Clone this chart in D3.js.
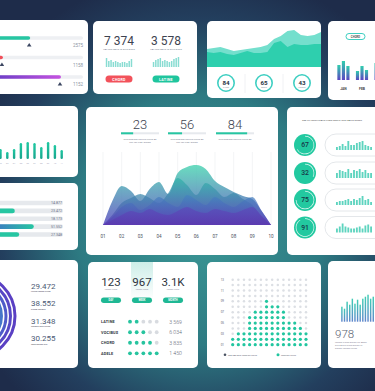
<!DOCTYPE html>
<html>
<head>
<meta charset="utf-8">
<script src="https://cdn.jsdelivr.net/npm/d3@7"></script>
<style>
body { margin: 0; background: #1e2d4a; }
svg { display: block; font-family: Roboto, "Open Sans", sans-serif; }
</style>
</head>
<body>
<svg width="375" height="391"></svg>
<script>
// ---- data ----
const progLabels = ["2575", "1158", "1152"];
const progValues = [40, 9, 75];

const kpiNumbers = ["7 374", "3 578"];
const kpiTags = ["CHORD", "LATINE"];
const kpiMiniA = [9, 6, 7, 5, 6, 5, 4, 5, 5, 4, 6, 8];
const kpiMiniB = [5, 7, 8, 9, 6, 7, 6, 5, 6, 8, 9, 10];

const waveLight = [18, 19, 20, 18, 16, 17, 18, 19, 20, 22, 28, 31, 36, 37, 32, 31, 32, 35];
const waveDark = [15, 14, 15, 13, 12, 14, 16, 14, 14, 15, 24, 26, 20, 23, 22, 22, 23, 23];
const ringValues = ["84", "65", "43"];
const ringNames = ["CHORD", "ADELE", "VOCIBUS"];

const months = ["JAN", "FEB", "MAR"];
const monthBars = [[15, 19, 14], [9, 14, 10], [17, 12, 15]];

const colBars = [12, 10, 7, 10, 16, 17, 16, 12, 17, 14, 9];

const hbarLabels = ["14.877", "23.472", "18.173", "51.552", "27.348"];
const hbarValues = [4, 34, 6, 60, 40];

const statNumbers = ["23", "56", "84"];
const statFill = [0.32, 0.37, 0.82];
const streamTicks = ["01", "02", "03", "04", "05", "06", "07", "08", "09", "10"];
const streamX = [1, 1.5, 2, 2.5, 3, 3.5, 4, 4.5, 5, 5.5, 6, 6.5, 7, 7.5, 8, 8.5, 9, 9.5, 10];
const streamA = [0, 24, 39, 34, 24, 36, 43, 31, 52, 58, 60, 56, 44, 38, 33, 29, 26, 14, 0];
const streamB = [0, 10, 22, 27, 31, 27, 22, 32, 47, 40, 30, 42, 36, 28, 32, 26, 20, 8, 0];
const streamC = [0, 8, 18, 22, 15, 20, 28, 22, 18, 30, 25, 20, 28, 22, 18, 24, 28, 14, 0];
const streamD = [0, 5, 10, 14, 12, 16, 12, 10, 14, 18, 14, 12, 16, 14, 12, 15, 18, 9, 0];

const gaugeValues = [67, 32, 75, 91];
const gaugeMini = [
  [3, 4, 6, 4, 9, 5, 5, 7, 8, 9, 5, 4, 3],
  [5, 8, 7, 6, 9, 5, 8, 7, 9, 6, 8, 5, 5],
  [3, 4, 4, 5, 6, 4, 6, 5, 7, 9, 5, 6, 3],
  [4, 6, 9, 6, 5, 4, 4, 5, 6, 4, 7, 8, 6]
];

const ringStats = ["29.472", "38.552", "31.348", "30.255"];
const ringStatSubs = ["LATINE LOREM IPSUM", "CHORD VOCIBUS", "VOCIBUS DUIS LATINE", "ADELE DONEC NISI"];

const periodNumbers = ["123", "967", "3.1K"];
const periodTags = ["DAY", "WEEK", "MONTH"];
const rankNames = ["LATINE", "VOCIBUS", "CHORD", "ADELE"];
const rankDots = [2, 3, 4, 5];
const rankValues = ["3 569", "6 034", "3 835", "1 450"];

const dotCols = [2, 3, 3, 6, 7, 7, 9, 8, 8, 7, 5, 5, 4, 3];
const dotRowLabels = ["01", "03", "05", "07", "09", "11", "13"];

const thinBars = [15, 13, 20, 17, 23, 18, 22, 17, 23, 25, 27, 23, 25, 33, 22, 28];

// ---- setup ----
const svg = d3.select("svg");
const defs = svg.append("defs");
const teal = "#26c6a2";
const grey = "#8b94a3";

function grad(id, c1, c2, units) {
  const g = defs.append("linearGradient").attr("id", id)
    .attr("x1", 0).attr("y1", 0).attr("x2", 0).attr("y2", 1);
  if (units) g.attr("gradientUnits", "userSpaceOnUse").attr("y1", units[0]).attr("y2", units[1]);
  g.append("stop").attr("offset", 0).attr("stop-color", c1);
  g.append("stop").attr("offset", 1).attr("stop-color", c2);
  return `url(#${id})`;
}

const bg = defs.append("radialGradient").attr("id", "bg")
  .attr("gradientUnits", "userSpaceOnUse").attr("cx", 200).attr("cy", 220).attr("r", 250);
bg.append("stop").attr("offset", 0).attr("stop-color", "#3c9a98");
bg.append("stop").attr("offset", 0.5).attr("stop-color", "#2d7a82");
bg.append("stop").attr("offset", 0.8).attr("stop-color", "#233f5e");
bg.append("stop").attr("offset", 1).attr("stop-color", "#1e2c4a");
svg.append("rect").attr("width", 375).attr("height", 391).attr("fill", "url(#bg)");

const purp = defs.append("linearGradient").attr("id", "purp");
purp.append("stop").attr("offset", 0).attr("stop-color", "#6a3ec6");
purp.append("stop").attr("offset", 1).attr("stop-color", "#c552e0");

const blueTeal = defs.append("linearGradient").attr("id", "blueTeal");
blueTeal.append("stop").attr("offset", 0).attr("stop-color", "#3f6fc8");
blueTeal.append("stop").attr("offset", 1).attr("stop-color", "#26c6a2");

let clipN = 0;
function card(x, y, w, h) {
  const id = "clip" + (clipN++);
  defs.append("clipPath").attr("id", id).append("rect")
    .attr("x", x).attr("y", y).attr("width", w).attr("height", h).attr("rx", 5);
  svg.append("rect").attr("x", x).attr("y", y).attr("width", w).attr("height", h)
    .attr("rx", 5).attr("fill", "#fff");
  return svg.append("g").attr("clip-path", `url(#${id})`);
}

function txt(g, x, y, s, size, fill, anchor, weight) {
  return g.append("text").attr("x", x).attr("y", y).text(s)
    .attr("font-size", size).attr("fill", fill || "#333")
    .attr("text-anchor", anchor || "start").attr("font-weight", weight || 400);
}

// ---- card A: progress bars ----
const gA = card(-12, 20, 100, 74);
const xProg = d3.scaleLinear().domain([0, 100]).range([-5, 83]);
const progColors = [teal, "#f0505a", "url(#purp)"];
progValues.forEach((v, i) => {
  const cy = 38 + i * 19.5;
  gA.append("rect").attr("x", xProg(0)).attr("y", cy - 1.8).attr("width", xProg(100) - xProg(0))
    .attr("height", 3.6).attr("rx", 1.8).attr("fill", "#eef0f3");
  gA.append("rect").attr("x", xProg(0)).attr("y", cy - 1.8).attr("width", xProg(v) - xProg(0))
    .attr("height", 3.6).attr("rx", 1.8).attr("fill", progColors[i]);
  const mx = xProg(v) - 1;
  gA.append("path").attr("d", `M${mx - 2.3},${cy + 8.5}L${mx},${cy + 5}L${mx + 2.3},${cy + 8.5}Z`)
    .attr("fill", "#3b4661");
  txt(gA, 83, cy + 9, progLabels[i], 4.5, grey, "end");
});

// ---- card B: KPI numbers ----
const gB = card(93, 21, 104, 73);
const kpiCx = [119, 166];
const kpiMini = [kpiMiniA, kpiMiniB];
kpiNumbers.forEach((n, i) => {
  const cx = kpiCx[i];
  txt(gB, cx, 45, n, 12, "#3d4350", "middle", 400);
  txt(gB, cx, 49.5, "LAT NIM SALIS ID DUIS DIMIS", 2.4, "#7a8190", "middle");
  const xb = d3.scaleBand().domain(d3.range(kpiMini[i].length)).range([cx - 14, cx + 14]).padding(0.35);
  const yb = d3.scaleLinear().domain([0, 10]).range([67, 57]);
  gB.selectAll(null).data(kpiMini[i]).join("rect")
    .attr("x", (d, j) => xb(j)).attr("width", xb.bandwidth())
    .attr("y", d => yb(d)).attr("height", d => 67 - yb(d)).attr("fill", "#88dcd2");
  gB.append("rect").attr("x", cx - 13.5).attr("y", 75.5).attr("width", 27).attr("height", 7)
    .attr("rx", 3.5).attr("fill", i === 0 ? "#f2525b" : "#1fc59d");
  txt(gB, cx, 80.6, kpiTags[i], 3.6, "#fff", "middle", 700).attr("letter-spacing", 0.3);
});

// ---- card C: waves + rings ----
const gC = card(207, 21, 114, 77);
const xw = d3.scaleLinear().domain([0, waveLight.length - 1]).range([207, 321]);
const yw = d3.scaleLinear().domain([0, 40]).range([67, 27]);
const wave = d3.area().x((d, i) => xw(i)).y0(67).y1(d => yw(d));
gC.append("path").attr("d", wave(waveLight)).attr("fill", "#74dfcd");
gC.append("path").attr("d", wave(waveDark)).attr("fill", "#2ecfae");
const ringCx = [226, 264, 302];
ringValues.forEach((v, i) => {
  gC.append("circle").attr("cx", ringCx[i]).attr("cy", 83).attr("r", 8.2)
    .attr("fill", "none").attr("stroke", "#3fcfc2").attr("stroke-width", 1.6);
  txt(gC, ringCx[i], 84.5, v, 6.2, "#27323f", "middle", 700);
  txt(gC, ringCx[i], 87.5, ringNames[i], 1.8, grey, "middle");
});
[245, 283].forEach(x => gC.append("line").attr("x1", x).attr("x2", x).attr("y1", 74).attr("y2", 93)
  .attr("stroke", "#eceef1").attr("stroke-width", 0.8));

// ---- card D: monthly grouped bars ----
const gD = card(328, 21, 60, 79);
gD.append("rect").attr("x", 346).attr("y", 33.5).attr("width", 19).attr("height", 6).attr("rx", 3)
  .attr("fill", "none").attr("stroke", "#3fcfc2").attr("stroke-width", 1);
txt(gD, 355.5, 37.8, "CHORD", 2.8, "#555", "middle", 700);
const barGrad = grad("mbar", "#30cfae", "#5b45c2");
const xm = d3.scaleBand().domain(months).range([336, 388]).paddingInner(0.2);
const xmi = d3.scaleBand().domain([0, 1, 2]).range([0, xm.bandwidth()]).padding(0.3);
const ym = d3.scaleLinear().domain([0, 20]).range([80, 60]);
months.forEach((m, i) => {
  gD.selectAll(null).data(monthBars[i]).join("rect")
    .attr("x", (d, j) => xm(m) + xmi(j)).attr("width", xmi.bandwidth())
    .attr("y", d => ym(d)).attr("height", d => 80 - ym(d)).attr("fill", barGrad);
  txt(gD, xm(m) + xm.bandwidth() / 2, 90, m, 3.4, "#444", "middle", 700);
});

// ---- card E: column bars ----
const gE = card(-12, 106, 90, 71);
const xc = d3.scaleLinear().domain([0, colBars.length - 1]).range([-6.3, 61.7]);
const yc = d3.scaleLinear().domain([0, 20]).range([159, 139]);
const colGrad = grad("cbar", "#20c9a2", "#18a58e");
gE.selectAll(null).data(colBars).join("rect")
  .attr("x", (d, i) => xc(i) - 1.2).attr("width", 2.4)
  .attr("y", d => yc(d)).attr("height", d => 159 - yc(d)).attr("rx", 1.2).attr("fill", colGrad);
gE.selectAll(null).data(colBars).join("text")
  .attr("x", (d, i) => xc(i)).attr("y", 164).attr("text-anchor", "middle")
  .attr("font-size", 2.2).attr("fill", "#aab").text((d, i) => String(i + 1).padStart(2, "0"));

// ---- card F: horizontal bars ----
const gF = card(-12, 183, 90, 67);
const xh = d3.scaleLinear().domain([0, 100]).range([-10, 63]);
const yh = d3.scaleBand().domain(d3.range(hbarLabels.length)).range([197.5, 240]).padding(0.4);
hbarValues.forEach((v, i) => {
  gF.append("rect").attr("x", xh(0)).attr("y", yh(i)).attr("width", xh(100) - xh(0))
    .attr("height", yh.bandwidth()).attr("rx", yh.bandwidth() / 2).attr("fill", "#e6e9ed");
  gF.append("rect").attr("x", xh(0)).attr("y", yh(i)).attr("width", xh(v) - xh(0))
    .attr("height", yh.bandwidth()).attr("rx", yh.bandwidth() / 2)
    .attr("fill", i === 3 ? "url(#blueTeal)" : teal);
  txt(gF, 62, yh(i) + yh.bandwidth() / 2 + 1.3, hbarLabels[i], 3.6, "#6b7486", "end");
});

// ---- card G: stats + streamgraph ----
const gG = card(86, 107, 192, 148);
const statCx = [140, 187, 235];
statNumbers.forEach((n, i) => {
  const cx = statCx[i];
  txt(gG, cx, 128.5, n, 13, "#3d4350", "middle", 300);
  const xs = d3.scaleLinear().domain([0, 1]).range([cx - 19, cx + 19]);
  gG.append("rect").attr("x", xs(0)).attr("y", 132.3).attr("width", xs(1) - xs(0)).attr("height", 2)
    .attr("fill", "#e6e9ed");
  gG.append("rect").attr("x", xs(0)).attr("y", 132.3).attr("width", xs(statFill[i]) - xs(0)).attr("height", 2)
    .attr("fill", teal);
  txt(gG, cx, 139.5, "SUSPENDISSE LECTUS PURUS AT", 2.2, "#7a8190", "middle");
  if (i < 2) txt(gG, cx, 142.5, "NISI VEL NIBH DONEC", 2.2, "#7a8190", "middle");
});
const xsx = d3.scaleLinear().domain([1, 10]).range([103, 271]);
const ysy = d3.scaleLinear().domain([0, 60]).range([225, 165]);
streamTicks.forEach((t, i) => {
  gG.append("line").attr("x1", xsx(i + 1)).attr("x2", xsx(i + 1)).attr("y1", 152).attr("y2", 225)
    .attr("stroke", "#eef0f2").attr("stroke-width", 0.7);
  txt(gG, xsx(i + 1), 238, t, 4.6, "#4a5262", "middle");
});
const stream = d3.area().curve(d3.curveMonotoneX)
  .x((d, i) => xsx(streamX[i])).y0(225).y1(d => ysy(d));
const layers = [
  [streamA, grad("sA", "#4fd6b4", "#5b4cc0", [165, 225]), 0.85],
  [streamB, grad("sB", "#2fbca8", "#5a40b8", [175, 225]), 0.75],
  [streamC, grad("sC", "#3f8fc0", "#5a3db5", [190, 225]), 0.7],
  [streamD, grad("sD", "#5a55c0", "#5b3aae", [200, 225]), 0.8]
];
layers.forEach(([vals, fill, op]) => {
  gG.append("path").attr("d", stream(vals)).attr("fill", fill).attr("fill-opacity", op);
});

// ---- card H: gauges with mini bars ----
const gH = card(287, 107, 100, 148);
txt(gH, 302, 121, "SED UT PERSPICIATIS UNDE OMNIS ISTE NATUS ERROR", 2.4, "#555");
const gaugeCy = [145, 173, 200, 227.5];
const arcG = d3.arc().innerRadius(8.6).outerRadius(9.3);
gaugeValues.forEach((v, i) => {
  const cy = gaugeCy[i];
  gH.append("circle").attr("cx", 305).attr("cy", cy).attr("r", 11).attr("fill", "#22c9a0");
  gH.append("path").attr("transform", `translate(305,${cy})`)
    .attr("d", arcG({ startAngle: 0, endAngle: 2 * Math.PI * v / 100 })).attr("fill", "#fff").attr("fill-opacity", 0.85);
  txt(gH, 305, cy + 2.4, v, 6.8, "#173848", "middle", 500);
  gH.append("rect").attr("x", 325).attr("y", cy - 11).attr("width", 70).attr("height", 22).attr("rx", 11)
    .attr("fill", "#fff").attr("stroke", "#e4e7ea").attr("stroke-width", 1);
  const xg = d3.scaleBand().domain(d3.range(gaugeMini[i].length)).range([335, 373]).padding(0.35);
  const yg = d3.scaleLinear().domain([0, 10]).range([cy + 5, cy - 5]);
  gH.selectAll(null).data(gaugeMini[i]).join("rect")
    .attr("x", (d, j) => xg(j)).attr("width", xg.bandwidth())
    .attr("y", d => yg(d)).attr("height", d => cy + 5 - yg(d)).attr("fill", "#5ed4bf");
});

// ---- card I: concentric rings ----
const gI = card(-12, 260, 90, 108);
const ringRadii = [42, 37.5, 33, 28.5, 24, 19.5];
const ringColors = ["#5a40c3", "#5748c5", "#4f5cc9", "#4676c9", "#3b94c3", "#31adb6"];
ringRadii.forEach((r, i) => {
  gI.append("circle").attr("cx", -27).attr("cy", 316).attr("r", r)
    .attr("fill", "none").attr("stroke", ringColors[i]).attr("stroke-width", 3);
});
gI.append("circle").attr("cx", -27).attr("cy", 316).attr("r", 14).attr("fill", "#2fb5a8");
const ringStatY = [288.5, 306, 323.5, 341];
ringStats.forEach((s, i) => {
  txt(gI, 31, ringStatY[i], s, 8, "#4c5a74", "start", 400);
  txt(gI, 31, ringStatY[i] + 3.6, ringStatSubs[i], 1.9, "#667", "start", 700);
});

// ---- card J: periods + ranking ----
const gJ = card(88, 262, 110, 106);
gJ.append("rect").attr("x", 131).attr("y", 262).attr("width", 22).attr("height", 38)
  .attr("fill", grad("hl", "#cdeee8", "#ffffff"));
const periodCx = [111, 142, 173];
periodNumbers.forEach((n, i) => {
  txt(gJ, periodCx[i], 285.5, n, 11.5, "#2e3440", "middle", 400);
  txt(gJ, periodCx[i], 290, "LOREM IPSUM", 1.9, "#889", "middle");
  gJ.append("rect").attr("x", periodCx[i] - 10).attr("y", 297.5).attr("width", 20).attr("height", 5.5)
    .attr("rx", 2.75).attr("fill", "#1fb894");
  txt(gJ, periodCx[i], 301.2, periodTags[i], 2.6, "#fff", "middle", 700);
});
const yr = d3.scalePoint().domain(rankNames).range([321.7, 353.3]);
const xd = d3.scaleLinear().domain([0, 4]).range([130, 156.7]);
rankNames.forEach((nm, i) => {
  txt(gJ, 101, yr(nm) + 1.3, nm, 3.8, "#2e3440", "start", 700).attr("letter-spacing", 0.2);
  gJ.selectAll(null).data(d3.range(5)).join("circle")
    .attr("cx", d => xd(d)).attr("cy", yr(nm)).attr("r", 1.9)
    .attr("fill", d => d < rankDots[i] ? "#27c49f" : "#d8dbe0");
  txt(gJ, 182, yr(nm) + 1.8, rankValues[i], 5.2, "#5b6272", "end", 300);
});

// ---- card K: dot matrix ----
const gK = card(207, 262, 114, 106);
const xk = d3.scaleLinear().domain([0, dotCols.length - 1]).range([232.7, 306]);
const yk = d3.scaleLinear().domain([1, 13]).range([344.7, 279.7]);
dotCols.forEach((h, c) => {
  gK.selectAll(null).data(d3.range(1, 14)).join("circle")
    .attr("cx", xk(c)).attr("cy", d => yk(d)).attr("r", d => d <= h ? 1.6 : 1.25)
    .attr("fill", d => d <= h ? "#22c6a0" : "#dcdfe4");
});
dotRowLabels.forEach(l => txt(gK, 224, yk(+l) + 1, l, 3, "#667", "end"));
gK.append("circle").attr("cx", 225).attr("cy", 354.7).attr("r", 1.3).attr("fill", "#4a5262");
txt(gK, 228, 355.6, "SED DAPIBUS TEMPOR RISUS", 2.2, "#667");
gK.append("circle").attr("cx", 278).attr("cy", 354.7).attr("r", 1.5).attr("fill", "#22c6a0");
txt(gK, 281, 355.6, "TEMPOR NUNC", 2.2, "#667");

// ---- card L: thin bars + number ----
const gL = card(328, 261, 60, 107);
const xl = d3.scaleBand().domain(d3.range(thinBars.length)).range([340, 383]).padding(0.45);
const yl = d3.scaleLinear().domain([0, 35]).range([321.7, 286.7]);
gL.selectAll(null).data(thinBars).join("rect")
  .attr("x", (d, i) => xl(i)).attr("width", xl.bandwidth())
  .attr("y", d => yl(d)).attr("height", d => 321.7 - yl(d))
  .attr("fill", grad("tb", "#3fcdb5", "#5f86cc"));
txt(gL, 335, 338, "978", 11.5, "#5b6272", "start", 300);
["LOREM IPSUM DOLOR SIT AMET", "DUIS AUTE IRURE DOLOR IN", "DONEC LOREM IPSUM"].forEach((s, i) =>
  txt(gL, 335, 342.5 + i * 3, s, 2.2, "#889"));
</script>
</body>
</html>
